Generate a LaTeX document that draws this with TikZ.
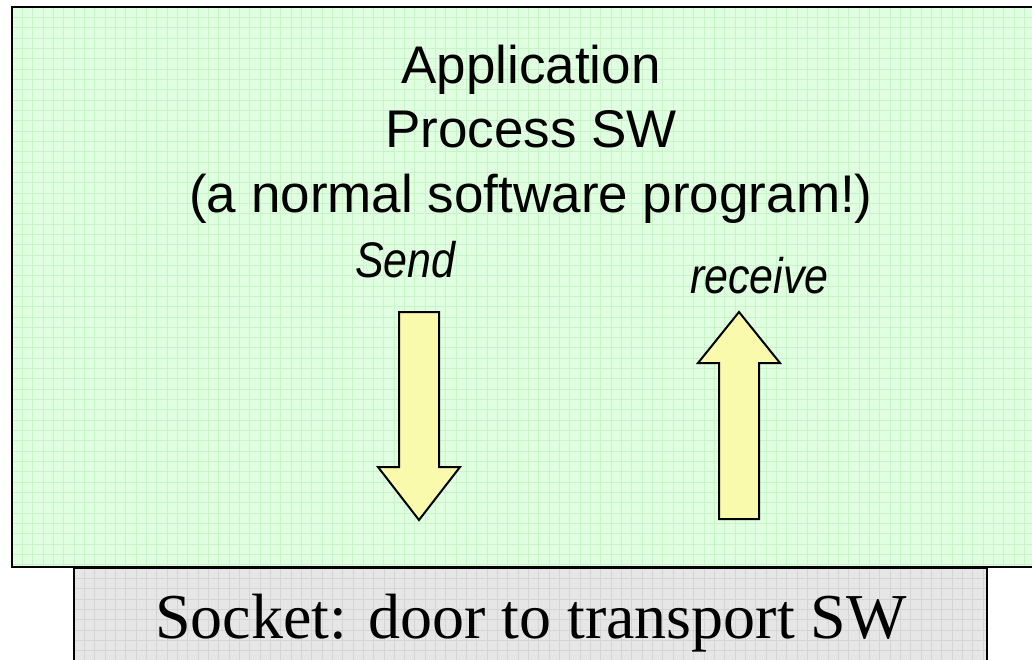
\documentclass[tikz,border=0pt]{standalone}
\usepackage{fontspec}
\setmainfont{Liberation Serif}
\newfontfamily\arialf{Liberation Sans}
\definecolor{appfill}{RGB}{224,255,224}
\definecolor{appgrid}{RGB}{200,245,200}
\definecolor{sockfill}{RGB}{230,230,230}
\definecolor{sockgrid}{RGB}{212,212,212}
\definecolor{arrowfill}{RGB}{250,250,172}
\tikzset{
  boxline/.style={draw=black, line width=2.5pt},
  arrowshape/.style={draw=black, line width=2pt, fill=arrowfill, line join=miter},
  titletext/.style={font=\arialf\fontsize{53}{60}\selectfont, anchor=base, inner sep=0pt},
  labeltext/.style={font=\arialf\itshape\fontsize{50}{60}\selectfont, anchor=base west,
                    inner sep=0pt, xscale=0.86, transform shape},
  sockettext/.style={font=\fontsize{64}{70}\selectfont, anchor=base, inner sep=0pt}
}
\begin{document}
\begin{tikzpicture}[x=1pt, y=-1pt]
\useasboundingbox (0,0) rectangle (1032,659);

% socket box with its fine grid
\fill[sockfill] (74,568) rectangle (987,670);
\begin{scope}
  \clip (74,568) rectangle (987,670);
  \foreach \i in {0,...,90} {
    \draw[sockgrid, line width=0.8pt] ({74+10.33*\i},568) -- ({74+10.33*\i},670);
  }
  \foreach \j in {0,...,10} {
    \draw[sockgrid, line width=0.8pt] (74,{568+10.33*\j}) -- (987,{568+10.33*\j});
  }
\end{scope}
\draw[boxline] (74,680) -- (74,568) -- (987,568) -- (987,680);

% application box with its fine grid
\fill[appfill] (12,7) rectangle (1050,567);
\begin{scope}
  \clip (12,7) rectangle (1050,567);
  \foreach \i in {1,...,101} {
    \draw[appgrid, line width=0.8pt] ({12+10.33*\i},7) -- ({12+10.33*\i},567);
  }
  \foreach \j in {1,...,55} {
    \draw[appgrid, line width=0.8pt] (12,{7+10.33*\j}) -- (1050,{7+10.33*\j});
  }
\end{scope}
\draw[boxline] (12,7) rectangle (1050,567);

% title lines
\node[titletext] (app)  at (531,83)  {Application};
\node[titletext] (proc) at (531,147) {Process SW};
\node[titletext] (norm) at (531,212) {(a normal software program!)};

% send / receive labels
\node[labeltext] (send) at (355,277) {Send};
\node[labeltext] (recv) at (690,293) {receive};

% block arrows
\draw[arrowshape] (399,312) -- (439,312) -- (439,467) -- (460,467) -- (419,520)
  -- (378,467) -- (399,467) -- cycle;
\draw[arrowshape] (719,519) -- (759,519) -- (759,363) -- (780,363) -- (739,312)
  -- (698,363) -- (719,363) -- cycle;

% socket label
\node[sockettext] (sock) at (531,638) {Socket: door to transport SW};
\end{tikzpicture}
\end{document}
